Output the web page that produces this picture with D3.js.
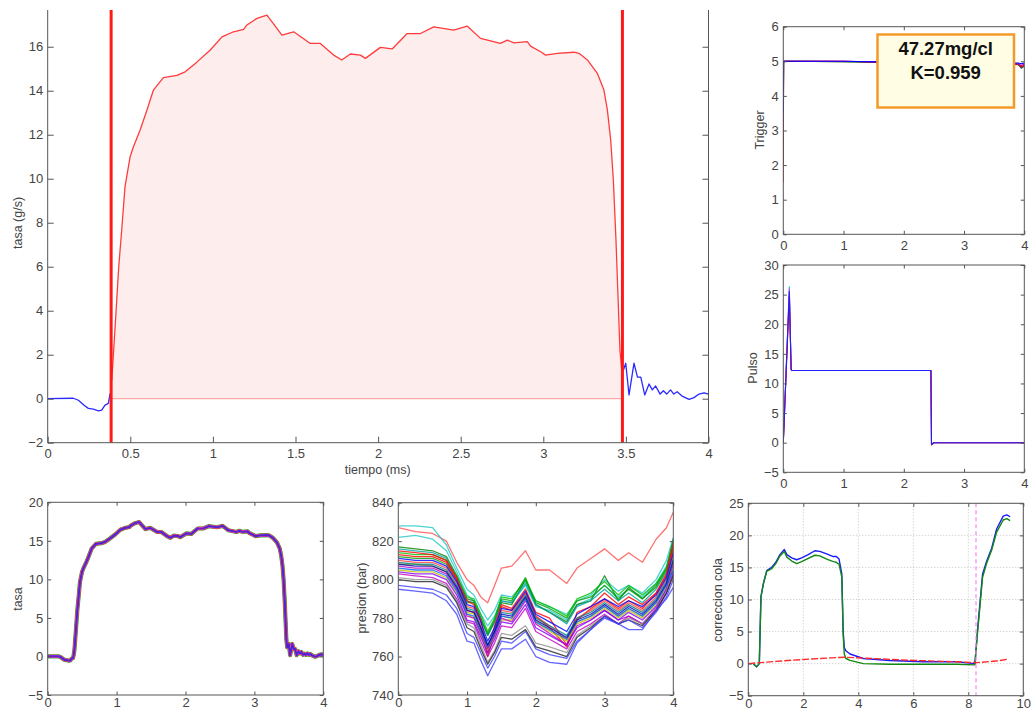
<!DOCTYPE html>
<html>
<head>
<meta charset="utf-8">
<script src="https://cdn.jsdelivr.net/npm/d3@7"></script>
<style>
  body { margin: 0; background: #fff; }
  svg { display: block; font-family: "Liberation Sans", Arial, sans-serif; }
  .tk text { fill: #444; font-size: 13px; }
  .tk line { stroke: #555; }
  .tk path { display: none; }
  .lbl { fill: #444; font-size: 12.5px; }
</style>
</head>
<body>
<svg id="fig" width="1034" height="712"></svg>
<script>
// ---- tasa principal (g/s) vs tiempo (ms)
var tiempo = [0, 0.155, 0.186, 0.22, 0.246, 0.276, 0.307, 0.327, 0.347, 0.367, 0.378,
  0.388, 0.41, 0.43, 0.448, 0.468, 0.499, 0.519, 0.559, 0.6, 0.64, 0.70, 0.782, 0.832, 0.903,
  0.984, 1.055, 1.125, 1.186, 1.206, 1.267, 1.327, 1.418, 1.489, 1.59, 1.65, 1.731, 1.78,
  1.832, 1.893, 1.923, 2.014, 2.085, 2.176, 2.256, 2.337, 2.458, 2.539, 2.62, 2.74, 2.782,
  2.822, 2.903, 2.923, 2.984, 3.014, 3.085, 3.185, 3.216, 3.267, 3.327, 3.367, 3.388, 3.408,
  3.424, 3.44, 3.464, 3.476,
  3.485, 3.499, 3.519, 3.549, 3.57, 3.59, 3.614, 3.64, 3.66, 3.68, 3.707, 3.727, 3.747,
  3.77, 3.79, 3.81, 3.84, 3.882, 3.912, 3.943, 3.973, 4.0];
var tasa = [0, 0.02, -0.07, -0.3, -0.44, -0.47, -0.55, -0.52, -0.29, -0.21, 0.24,
  0.85, 3.5, 6.0, 7.67, 9.64, 11.0, 11.45, 12.2, 13.1, 14.03, 14.6, 14.7, 14.86, 15.3,
  15.85, 16.45, 16.68, 16.79, 16.99, 17.29, 17.44, 16.53, 16.68, 16.15, 16.15, 15.62, 15.4,
  15.67, 15.62, 15.47, 15.97, 15.9, 16.6, 16.6, 16.9, 16.76, 16.94, 16.38, 16.15, 16.3,
  16.18, 16.23, 16.03, 15.77, 15.62, 15.7, 15.75, 15.7, 15.4, 14.79, 14.03, 13.12, 11.76,
  9.94, 7.21, 2.2, 1.2,
  1.30, 1.61, 0.17, 1.62, 0.98, 0.98, 0.17, 0.67, 0.4, 0.58, 0.21, 0.36, 0.21,
  0.4, 0.21, 0.32, 0.12, -0.03, 0.05, 0.21, 0.27, 0.21];
var cortes = [0.384, 3.479];

// ---- Trigger
var trigT = [0, 0.005, 0.02, 1.0, 2.0, 3.0, 3.9, 3.95, 4.0];
var trigSeries = [
  {c: "#00a000", v: [2.5, 5.0, 5.0, 4.99, 4.96, 4.95, 4.9, 4.82, 4.9]},
  {c: "#404040", v: [2.0, 5.0, 5.0, 4.99, 4.96, 4.94, 4.91, 4.8, 4.86]},
  {c: "#ff0000", v: [1.5, 5.0, 5.0, 5.0, 4.96, 4.95, 4.92, 4.85, 4.88]},
  {c: "#c000c0", v: [3.0, 5.0, 5.0, 5.0, 4.97, 4.95, 4.93, 4.88, 4.92]},
  {c: "#0000ff", v: [3.5, 5.0, 5.0, 5.0, 4.97, 4.96, 4.95, 4.93, 4.95]}
];

// ---- Pulso
var pulsoT = [0, 0.1, 0.13, 0.14, 2.45, 2.46, 2.5, 4.0];
var pulsoSeries = [
  {c: "#00c0c0", v: [0, 26.3, 12.4, 12.2, 12.2, -0.2, 0, 0]},
  {c: "#e040ff", v: [0, 26.0, 12.4, 12.2, 12.2, -0.2, 0, 0]},
  {c: "#ff0000", v: [0, 24.8, 12.3, 12.2, 12.2, -0.4, 0, 0]},
  {c: "#2020ff", v: [0, 25.5, 12.5, 12.2, 12.2, -0.3, 0, 0]}
];

// ---- presion (bar)
var presT = [0, 0.25, 0.5, 0.7, 0.85, 1.0, 1.1, 1.2, 1.3, 1.4, 1.5, 1.65, 1.85, 2.0, 2.2,
  2.45, 2.6, 2.8, 3.0, 3.2, 3.35, 3.55, 3.75, 3.9, 4.0];
var presSeries = [
  {c: "#ff5050", v: [827, 825, 824, 820, 809, 800, 797, 791, 788, 797, 806, 807, 815, 805, 805, 798, 806, 811, 816, 810, 814, 809, 821, 827, 835]},
  {c: "#20c8c8", v: [828, 828, 827, 818, 806, 795, 792, 785, 779, 784, 792, 791, 799, 789, 786, 782, 789, 792, 800, 794, 797, 793, 800, 810, 822]},
  {c: "#20c8c8", v: [822, 823, 821, 815, 804, 792, 789, 782, 776, 781, 789, 788, 797, 786, 784, 779, 787, 790, 797, 791, 795, 791, 798, 807, 820]},
  {c: "#008000", v: [817, 816, 815, 812, 802, 790, 789, 780, 771, 778, 788, 787, 800, 787, 783, 778, 787, 789, 802, 789, 796, 790, 797, 806, 821]},
  {c: "#00a0a0", v: [816, 815, 814, 811, 802, 789, 788, 780, 771, 778, 789, 788, 798, 787, 783, 777, 786, 789, 795, 789, 793, 788, 795, 804, 818]},
  {c: "#00c000", v: [814, 813, 813, 810, 802, 791, 790, 782, 773, 780, 791, 790, 800, 789, 786, 781, 790, 793, 799, 792, 797, 792, 798, 806, 819]},
  {c: "#00a000", v: [812, 811, 811, 808, 800, 788, 788, 779, 772, 779, 790, 789, 801, 788, 785, 780, 789, 791, 797, 790, 795, 790, 796, 805, 817]},
  {c: "#ff0000", v: [815, 814, 813, 810, 801, 784, 783, 774, 760, 772, 786, 784, 793, 781, 775, 765, 779, 785, 790, 785, 789, 785, 793, 802, 816]},
  {c: "#ff0000", v: [813, 812, 812, 809, 800, 789, 787, 779, 762, 776, 787, 785, 795, 783, 780, 766, 783, 786, 793, 787, 791, 787, 793, 803, 819]},
  {c: "#ff4040", v: [810, 809, 809, 806, 798, 786, 785, 776, 765, 774, 784, 783, 793, 781, 776, 769, 780, 784, 789, 784, 788, 784, 791, 800, 813]},
  {c: "#c0c000", v: [805, 804, 804, 801, 793, 782, 780, 771, 763, 770, 779, 779, 790, 778, 773, 768, 777, 780, 785, 780, 784, 780, 787, 796, 809]},
  {c: "#c0c000", v: [808, 808, 807, 804, 796, 783, 782, 773, 764, 772, 781, 780, 791, 779, 774, 769, 778, 781, 786, 781, 785, 781, 788, 797, 807]},
  {c: "#c000c0", v: [807, 806, 806, 803, 795, 781, 780, 772, 764, 771, 780, 778, 789, 777, 772, 766, 776, 779, 784, 779, 781, 777, 785, 795, 808]},
  {c: "#c000c0", v: [803, 802, 801, 798, 790, 778, 777, 768, 760, 767, 776, 775, 785, 773, 769, 764, 773, 777, 782, 777, 781, 777, 784, 793, 803]},
  {c: "#8000ff", v: [804, 803, 803, 800, 792, 779, 778, 770, 762, 769, 778, 777, 787, 775, 771, 766, 775, 779, 784, 779, 783, 779, 786, 795, 804]},
  {c: "#909090", v: [801, 800, 800, 797, 789, 777, 775, 766, 757, 763, 772, 771, 776, 767, 765, 762, 771, 776, 781, 777, 780, 777, 784, 794, 806]},
  {c: "#202020", v: [800, 799, 799, 796, 788, 775, 773, 764, 756, 762, 770, 769, 774, 765, 763, 760, 770, 775, 781, 777, 779, 776, 784, 793, 802]},
  {c: "#4040ff", v: [797, 796, 795, 792, 785, 772, 770, 762, 754, 760, 768, 767, 773, 764, 761, 759, 768, 774, 781, 777, 779, 775, 783, 791, 800]},
  {c: "#4040ff", v: [795, 794, 793, 789, 782, 768, 767, 758, 750, 757, 764, 764, 769, 760, 757, 756, 767, 774, 780, 777, 774, 774, 784, 790, 796]},
  {c: "#0060ff", v: [806, 805, 805, 802, 794, 782, 781, 773, 765, 772, 781, 780, 790, 778, 774, 769, 778, 781, 786, 781, 785, 781, 788, 797, 805]},
  {c: "#008080", v: [809, 808, 808, 805, 797, 785, 784, 775, 766, 773, 783, 782, 792, 780, 776, 771, 780, 783, 788, 783, 787, 783, 790, 799, 811]},
  {c: "#0000ff", v: [811, 810, 810, 807, 799, 787, 786, 778, 768, 775, 785, 784, 794, 782, 778, 773, 782, 786, 790, 786, 789, 786, 792, 801, 814]},
  {c: "#0000c0", v: [808, 807, 807, 804, 796, 784, 783, 775, 766, 773, 782, 781, 791, 779, 775, 770, 779, 782, 787, 782, 786, 782, 789, 798, 810]}
];

// ---- correccion cola
var colaT = [0.18, 0.3, 0.4, 0.46, 0.55, 0.67, 0.85, 1.0, 1.15, 1.31, 1.4, 1.58, 1.76, 1.94,
  2.18, 2.42, 2.6, 2.85, 3.09, 3.2, 3.3, 3.4, 3.45, 3.49, 3.55, 3.7, 4.18, 5.15, 6.36, 7.58,
  8.24, 8.33, 8.52, 8.67, 8.85, 9.03, 9.27, 9.4, 9.52];
var colaAzul = [0, -0.5, 0, 10.4, 12.5, 14.5, 15, 15.8, 17, 17.8, 17, 16.5, 16.2, 16.5,
  17, 17.6, 17.5, 17.1, 16.7, 16.7, 16.3, 14, 5, 2.5, 2, 1.5, 0.8, 0.5, 0.3, 0.3,
  0, 5, 14, 16, 18, 21, 23, 23.2, 22.9];
var colaVerde = [0, -0.5, 0, 10.4, 12.5, 14.4, 14.8, 15.6, 16.8, 17.5, 16.6, 16.0, 15.6, 15.9,
  16.4, 16.9, 16.8, 16.3, 15.9, 15.8, 15.5, 13.5, 4.5, 1.5, 0.8, 0.5, 0, -0.1, -0.1, -0.1,
  -0.2, 4.5, 13.5, 15.7, 17.7, 20.5, 22.4, 22.6, 22.3];
var colaRojaT = [0, 1, 2, 3, 3.5, 4.5, 6, 7.5, 8.3, 9, 9.45];
var colaRoja = [0, 0.35, 0.65, 0.9, 1.0, 0.8, 0.5, 0.3, 0.15, 0.4, 0.7];
var colaCorte = 8.28;

var resultado = ["47.27mg/cl", "K=0.959"];

var svg = d3.select("#fig");
var nClip = 0;

function panel(o) {
  var x = d3.scaleLinear().domain(o.xd).range([o.l, o.r]);
  var y = d3.scaleLinear().domain(o.yd).range([o.b, o.t]);
  var id = "clip" + (nClip++);
  svg.append("clipPath").attr("id", id).append("rect")
    .attr("x", o.l).attr("y", o.t).attr("width", o.r - o.l).attr("height", o.b - o.t);
  var g = svg.append("g");
  if (o.grid) {
    g.selectAll(".gx").data(o.xt).enter().append("line")
      .attr("x1", d => x(d)).attr("x2", d => x(d)).attr("y1", o.t).attr("y2", o.b)
      .attr("stroke", "#c4c4c4").attr("stroke-dasharray", "1,2");
    g.selectAll(".gy").data(o.yt).enter().append("line")
      .attr("y1", d => y(d)).attr("y2", d => y(d)).attr("x1", o.l).attr("x2", o.r)
      .attr("stroke", "#c4c4c4").attr("stroke-dasharray", "1,2");
  }
  var plot = g.append("g").attr("clip-path", "url(#" + id + ")");
  return {x: x, y: y, g: g, plot: plot, o: o};
}

function ejes(p) {
  var o = p.o, tl = o.tick || 3.5, f = d3.format("~g");
  var a = svg.append("g");
  a.append("g").attr("class", "tk").attr("transform", "translate(0," + o.b + ")")
    .call(d3.axisBottom(p.x).tickValues(o.xt).tickFormat(f)
      .tickSizeInner(-tl).tickSizeOuter(0).tickPadding(o.pad == null ? 6.5 : o.pad));
  a.append("g").attr("class", "tk").attr("transform", "translate(" + o.l + ",0)")
    .call(d3.axisLeft(p.y).tickValues(o.yt).tickFormat(f)
      .tickSizeInner(-tl).tickSizeOuter(0).tickPadding(4.5));
  a.append("g").attr("class", "tk").attr("transform", "translate(" + o.r + ",0)")
    .call(d3.axisRight(p.y).tickValues(o.yt).tickFormat("")
      .tickSizeInner(-tl).tickSizeOuter(0));
  if (!o.abierto) {
    a.append("g").attr("class", "tk").attr("transform", "translate(0," + o.t + ")")
      .call(d3.axisTop(p.x).tickValues(o.xt).tickFormat("")
        .tickSizeInner(-tl).tickSizeOuter(0));
    a.append("rect").attr("x", o.l).attr("y", o.t)
      .attr("width", o.r - o.l).attr("height", o.b - o.t)
      .attr("fill", "none").attr("stroke", "#555");
  } else {
    a.append("path").attr("fill", "none").attr("stroke", "#555")
      .attr("d", "M" + o.l + "," + o.t + "V" + o.b + "H" + o.r + "V" + o.t);
  }
  if (o.ylab) {
    a.append("text").attr("class", "lbl")
      .attr("transform", "translate(" + o.ylab[1] + "," + o.ylab[2] + ") rotate(-90)")
      .attr("text-anchor", "middle").attr("dy", "0.35em").text(o.ylab[0]);
  }
}

function traza(p, T, V, color, w) {
  return p.plot.append("path").datum(d3.zip(T, V))
    .attr("fill", "none").attr("stroke", color).attr("stroke-width", w)
    .attr("stroke-linejoin", "round")
    .attr("d", d3.line().x(d => p.x(d[0])).y(d => p.y(d[1])));
}

// ===== main chart
var pm = panel({l: 47.7, r: 708.5, t: 10, b: 442.7, xd: [0, 4], yd: [-2, 17.67],
  xt: d3.range(0, 4.01, 0.5), yt: d3.range(-2, 16.1, 2), tick: 6, abierto: true,
  ylab: ["tasa (g/s)", 18, 223]});
var pts = d3.zip(tiempo, tasa);
var rojo = pts.filter(d => d[0] >= cortes[0] && d[0] <= cortes[1]);
var pre = pts.filter(d => d[0] < cortes[0]);
var post = pts.filter(d => d[0] > cortes[1]);
pm.plot.append("path").datum(rojo)
  .attr("fill", "#fdeded")
  .attr("d", d3.area().x(d => pm.x(d[0])).y0(pm.y(0)).y1(d => pm.y(d[1])));
pm.plot.append("line")
  .attr("x1", pm.x(rojo[0][0])).attr("x2", pm.x(rojo[rojo.length - 1][0]))
  .attr("y1", pm.y(0)).attr("y2", pm.y(0))
  .attr("stroke", "#ffaaaa").attr("stroke-width", 1.2);
traza(pm, rojo.map(d => d[0]), rojo.map(d => d[1]), "#ff3b3b", 1.3);
traza(pm, pre.map(d => d[0]), pre.map(d => d[1]), "#2a2aff", 1.3);
traza(pm, post.map(d => d[0]), post.map(d => d[1]), "#2a2aff", 1.3);
pm.plot.selectAll(".corte").data(cortes).enter().append("line")
  .attr("x1", d => pm.x(d)).attr("x2", d => pm.x(d))
  .attr("y1", pm.o.t).attr("y2", pm.o.b)
  .attr("stroke", "#ff1a1a").attr("stroke-width", 3);
ejes(pm);
svg.append("text").attr("class", "lbl").attr("x", 377.7).attr("y", 473.5)
  .attr("text-anchor", "middle").text("tiempo (ms)");

// ===== Trigger
var pt = panel({l: 783.3, r: 1024.3, t: 26.7, b: 234.3, xd: [0, 4], yd: [0, 6],
  xt: d3.range(0, 5), yt: d3.range(0, 7), ylab: ["Trigger", 760, 130]});
trigSeries.forEach(s => traza(pt, trigT, s.v, s.c, 1.1));
ejes(pt);
var caja = svg.append("g");
caja.append("rect").attr("x", 877.5).attr("y", 34.5).attr("width", 136.5).attr("height", 73)
  .attr("fill", "#fffde4").attr("stroke", "#f39a2a").attr("stroke-width", 2.5);
caja.selectAll("text").data(resultado).enter().append("text")
  .attr("x", 945.7).attr("y", (d, i) => 55 + i * 23.5)
  .attr("text-anchor", "middle").attr("font-weight", "bold").attr("font-size", "18.5px")
  .attr("fill", "#111").text(d => d);

// ===== Pulso
var pp = panel({l: 783.3, r: 1024.3, t: 265, b: 472.3, xd: [0, 4], yd: [-5, 30],
  xt: d3.range(0, 5), yt: d3.range(-5, 31, 5), ylab: ["Pulso", 753, 368]});
pulsoSeries.forEach(s => traza(pp, pulsoT, s.v, s.c, 1.1));
ejes(pp);

// ===== tasa (all injections)
var pb = panel({l: 47.7, r: 323.3, t: 502.3, b: 695, xd: [0, 4], yd: [-5, 20], pad: 3,
  xt: d3.range(0, 5), yt: d3.range(-5, 21, 5), ylab: ["tasa", 17.5, 599]});
[["#30b030", 4.2], ["#ff3030", 3.3], ["#e040e0", 2.5], ["#2020ff", 1.7], ["#6a2aa0", 0.9]]
  .forEach(s => traza(pb, tiempo, tasa, s[0], s[1]));
ejes(pb);

// ===== presion
var pr = panel({l: 398.3, r: 673.3, t: 502.7, b: 695, xd: [0, 4], yd: [740, 840], pad: 3,
  xt: d3.range(0, 5), yt: d3.range(740, 841, 20), ylab: ["presion (bar)", 362, 598]});
presSeries.forEach(s => traza(pr, presT, s.v, s.c, 1.3).attr("stroke-opacity", 0.8));
ejes(pr);

// ===== correccion cola
var pc = panel({l: 748.3, r: 1023.3, t: 503.3, b: 695.7, xd: [0, 10], yd: [-5, 25], pad: 3,
  xt: d3.range(0, 11, 2), yt: d3.range(-5, 26, 5), grid: true,
  ylab: ["correccion cola", 718, 600]});
traza(pc, colaT, colaAzul, "#1a1aff", 1.4);
traza(pc, colaT, colaVerde, "#118811", 1.4);
traza(pc, colaRojaT, colaRoja, "#ff2a2a", 1.4).attr("stroke-dasharray", "7,2");
pc.plot.append("line").attr("x1", pc.x(colaCorte)).attr("x2", pc.x(colaCorte))
  .attr("y1", pc.o.t).attr("y2", pc.o.b)
  .attr("stroke", "#ff80ff").attr("stroke-width", 1.2).attr("stroke-dasharray", "4,3");
ejes(pc);
</script>
</body>
</html>
